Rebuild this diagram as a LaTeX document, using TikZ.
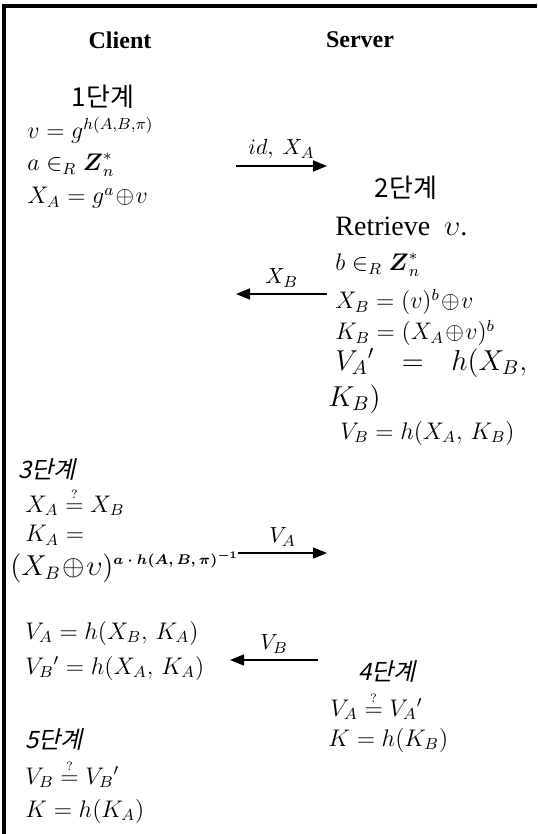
\documentclass[tikz,border=0pt]{standalone}
\usepackage{amsmath}
\usepackage{fontspec}
\setmainfont{Liberation Serif}
\newfontfamily\krfont{Noto Sans CJK KR}
\newfontfamily\kritfont[FakeSlant=0.22]{Noto Sans CJK KR}
\usepackage{tikz}
\usetikzlibrary{positioning, arrows.meta}

\newcommand{\qeq}{\mathrel{\overset{\scriptscriptstyle ?}{=}}}

\begin{document}
\begin{tikzpicture}[x=0.5pt, y=-0.5pt,
                  hd/.style={font=\fontsize{12}{14}\selectfont\bfseries, inner sep=0pt},
                  stage/.style={font=\fontsize{13}{15}\selectfont\krfont, inner sep=0pt},
                  stageit/.style={font=\fontsize{12}{14}\selectfont\kritfont, inner sep=0pt},
                  eq/.style={font=\fontsize{12}{14}\selectfont, anchor=west, inner sep=0pt},
                  eqbig/.style={font=\fontsize{14}{16}\selectfont, anchor=west, inner sep=0pt},
                  msg/.style={-{Triangle[length=7pt, width=5.5pt]}, line width=0.8pt},
                  lbl/.style={font=\fontsize{11}{13}\selectfont, inner sep=0pt, above=3pt},
            ]
            \useasboundingbox (0,0) rectangle (537,834);

            % ---- Frame (top and left only) ----
            \draw[line width=1.6pt] (4,834) -- (4,6) -- (537,6);

            % ---- Headers ----
            \node[hd] (client) at (120,40) {Client};
            \node[hd] (server) at (360,40) {Server};

            % ---- Client, step 1 ----
            \node[stage] (S1) at (103,97) {1단계};
            \node[eq] (C1) at (27,130) {$v = g^{h(A,B,\pi)}$};
            \node[eq] (C2) at (27,165) {$a \in_R \boldsymbol{Z}^{*}_{n}$};
            \node[eq] (C3) at (27,198) {$X_A = g^{a}\!\oplus\! v$};

            % ---- Server, step 2 ----
            \node[stage] (S2) at (406,188) {2단계};
            \node[eqbig] (R1) at (335,226) {Retrieve\ \ $\upsilon$.};
            \node[eq] (R2) at (335,265) {$b \in_R \boldsymbol{Z}^{*}_{n}$};
            \node[eq] (R3) at (335,302) {$X_B = (v)^{b}\!\oplus\! v$};
            \node[eq] (R4) at (335,333) {$K_B = (X_A\!\oplus\! v)^{b}$};
            \node[eqbig] (R5) at (335,363) {$V_A{}' \hspace{0.7em} = \hspace{0.7em} h(X_B,$};
            \node[eqbig] (R6) at (328,399) {$K_B)$};
            \node[eq] (R7) at (340,433) {$V_B = h(X_A,\, K_B)$};

            % ---- Client, step 3 ----
            \node[stageit, anchor=west] (S3) at (18,470) {3단계};
            \node[eq] (C4) at (25,502) {$X_A \qeq X_B$};
            \node[eq] (C5) at (25,535) {$K_A =$};
            \node[eqbig, font=\fontsize{13.5}{16}\selectfont] (C6) at (10,567) {$(X_{B}\!\oplus\! \upsilon)^{\text{\fontsize{7}{8}\selectfont$\boldsymbol{a\cdot h(A,B,\pi)^{-1}}$}}$};
            \node[eq] (C7) at (25,633) {$V_A = h(X_B,\, K_A)$};
            \node[eq] (C8) at (25,668) {$V_B{}' = h(X_A,\, K_A)$};

            % ---- Server, step 4 ----
            \node[stageit] (S4) at (387,672) {4단계};
            \node[eq] (R8) at (330,706) {$V_A \qeq V_A{}'$};
            \node[eq] (R9) at (328,740) {$K = h(K_B)$};

            % ---- Client, step 5 ----
            \node[stageit, anchor=west] (S5) at (25,740) {5단계};
            \node[eq] (C9) at (25,774) {$V_B \qeq V_B{}'$};
            \node[eq] (C10) at (25,811) {$K = h(K_A)$};

            % ---- Messages ----
            \coordinate (M1a) at (236,166); \coordinate (M1b) at (327,166);
            \coordinate (M2a) at (327,294); \coordinate (M2b) at (236,294);
            \coordinate (M3a) at (238,553); \coordinate (M3b) at (327,553);
            \coordinate (M4a) at (318,660); \coordinate (M4b) at (230,660);
            \draw[msg] (M1a) -- node[lbl] {$id,\ X_A$} (M1b);
            \draw[msg] (M2a) -- node[lbl] {$X_B$} (M2b);
            \draw[msg] (M3a) -- node[lbl] {$V_A$} (M3b);
            \draw[msg] (M4a) -- node[lbl] {$V_B$} (M4b);

      \end{tikzpicture}
\end{document}
